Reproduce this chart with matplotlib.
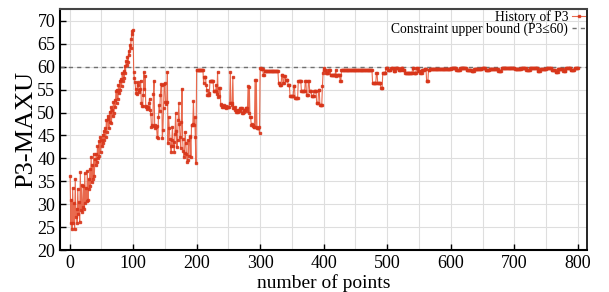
import numpy as np
import matplotlib
matplotlib.use('Agg')
import matplotlib.pyplot as plt
from matplotlib.ticker import MultipleLocator

plt.rcParams['font.family'] = ['Liberation Serif', 'DejaVu Serif']

# history of P3, points 1..300 read one by one
p3_head = [
    36.2, 25.8, 31.0, 24.6, 33.6, 26.0, 30.2, 24.6, 35.6, 27.2,
    29.0, 26.0, 33.4, 27.8, 30.4, 26.2, 37.0, 28.8, 34.2, 28.4,
    29.4, 34.0, 29.0, 36.8, 30.2, 33.6, 30.6, 37.2, 31.0, 35.4,
    33.4, 37.6, 34.0, 40.4, 34.8, 38.6, 35.6, 41.0, 36.2, 39.8,
    38.6, 41.0, 39.2, 42.6, 40.0, 43.8, 40.6, 44.6, 41.4, 44.0,
    42.6, 45.2, 43.4, 46.0, 44.0, 46.6, 44.6, 48.4, 45.8, 49.2,
    48.6, 46.6, 50.2, 48.0, 51.2, 47.8, 50.6, 49.2, 52.4, 50.0,
    52.8, 51.2, 54.6, 52.0, 55.0, 53.0, 56.0, 54.2, 57.0, 55.0,
    57.4, 55.8, 58.6, 56.8, 59.0, 57.6, 60.2, 58.6, 61.2, 60.4,
    62.2, 61.0, 63.4, 62.6, 64.8, 64.0, 66.0, 67.2, 67.7, 68.0,
    58.9, 57.6, 56.7, 55.2, 54.2, 54.0, 56.6, 56.0, 54.4, 55.0,
    55.2, 57.0, 52.0, 51.4, 51.5, 53.8, 58.9, 55.2, 58.0, 51.2,
    51.4, 50.8, 51.2, 51.0, 52.0, 53.0, 50.6, 49.6, 46.9, 47.2,
    47.0, 54.0, 57.0, 47.2, 46.7, 46.8, 47.0, 44.6, 44.4, 49.0,
    51.6, 50.4, 53.8, 56.2, 56.0, 44.4, 46.2, 51.0, 56.2, 56.4,
    52.2, 51.8, 52.4, 58.9, 43.3, 49.0, 46.6, 44.2, 42.6, 41.5,
    44.0, 46.9, 42.8, 43.6, 41.5, 45.4, 49.8, 46.0, 42.4, 44.0,
    48.4, 52.0, 47.6, 44.6, 42.3, 48.0, 55.2, 44.2, 41.6, 40.4,
    41.2, 45.8, 43.3, 41.0, 39.3, 39.6, 44.0, 40.6, 44.7, 44.8,
    40.4, 47.3, 47.2, 47.4, 52.5, 47.2, 49.0, 44.6, 38.9, 59.4,
    59.3, 59.3, 59.2, 59.3, 59.3, 59.2, 59.3, 59.3, 59.2, 59.3,
    56.4, 57.8, 57.8, 57.8, 56.0, 55.0, 53.8, 53.8, 53.8, 54.2,
    56.8, 56.8, 56.8, 56.8, 56.8, 56.8, 54.6, 54.6, 54.6, 54.6,
    56.0, 54.0, 58.9, 53.5, 53.6, 55.3, 55.3, 51.7, 51.8, 51.3,
    51.4, 51.2, 51.6, 51.3, 51.3, 51.0, 51.4, 51.3, 51.3, 51.2,
    51.3, 52.0, 58.9, 52.0, 51.6, 52.0, 57.8, 50.9, 50.9, 51.2,
    50.6, 50.2, 50.2, 50.6, 50.2, 50.5, 50.5, 51.0, 50.4, 50.9,
    50.9, 49.8, 49.8, 50.5, 50.2, 50.5, 50.9, 50.9, 50.4, 50.9,
    55.7, 50.0, 55.6, 49.1, 49.1, 47.3, 47.4, 47.3, 47.0, 46.9,
    46.9, 57.1, 46.9, 57.1, 46.6, 46.6, 46.6, 46.8, 45.5, 59.7,
]

# points 301..800, kept as (value, repeat count) runs
p3_tail_runs = [
    (59.7, 1), (59.5, 3), (58.3, 2), (59.0, 22), (56.5, 2), (56.1, 3),
    (58.3, 2), (56.5, 2), (58.0, 2), (57.2, 4), (56.1, 3), (53.6, 6),
    (55.7, 2), (53.2, 5), (56.8, 5), (54.6, 6), (56.8, 2), (53.9, 3),
    (56.8, 2), (54.6, 3), (53.6, 4), (54.6, 4), (52.0, 3), (55.0, 2),
    (51.7, 4), (55.7, 1), (58.6, 1), (59.7, 1),
    (59.3, 3), (58.6, 4), (59.3, 3), (58.3, 8), (59.3, 1), (57.9, 1),
    (58.3, 5), (56.8, 2), (59.2, 49), (56.5, 6), (58.6, 2), (56.5, 5),
    (55.4, 3), (58.6, 5), (59.7, 3),
    (59.3, 5), (59.7, 4), (59.0, 3), (59.7, 5), (59.2, 4), (59.7, 3),
    (59.4, 3), (58.6, 12), (59.7, 2), (58.6, 4), (59.7, 3), (59.0, 3),
    (58.6, 3), (59.3, 4), (59.6, 3), (56.9, 3), (59.3, 2), (59.5, 34),
    (59.7, 8), (59.3, 6), (59.8, 10), (59.4, 8), (59.0, 4), (59.6, 12),
    (59.8, 6), (59.2, 6), (59.6, 14), (59.0, 5), (59.7, 21),
    (59.5, 10), (59.8, 8), (59.3, 6), (59.7, 12), (59.0, 4), (59.6, 10),
    (59.8, 8), (59.2, 6), (58.8, 4), (59.6, 8), (59.0, 4), (59.7, 8),
    (59.4, 6), (59.8, 6),
]

upper_bound = 60

p3 = list(p3_head)
for val, n in p3_tail_runs:
    p3 += [val] * n
p3 = np.array(p3)
pts = np.arange(1, len(p3) + 1)

fig = plt.figure(figsize=(6.09, 2.92), dpi=100)
ax = fig.add_axes([0.0985, 0.1438, 0.866, 0.8237])

ax.grid(True, which='both', color='#dedede', linewidth=0.8, zorder=0)
ax.xaxis.set_major_locator(MultipleLocator(100))
ax.xaxis.set_minor_locator(MultipleLocator(50))
ax.yaxis.set_major_locator(MultipleLocator(5))

ax.plot(pts, p3, color='#e6502f', alpha=0.85, linewidth=0.8, marker='s',
        markersize=1.6, markerfacecolor='#d8361b', markeredgecolor='#d8361b',
        label='History of P3', zorder=3)
ax.axhline(upper_bound, color='#707070', linewidth=1, linestyle=(0, (3, 3)),
           label='Constraint upper bound (P3≤60)', zorder=2)

ax.set_xlim(-15, 815)
ax.set_ylim(20, 72.5)
ax.set_xlabel('number of points', fontsize=14, labelpad=1.5)
ax.set_ylabel('P3-MAXU', fontsize=19, labelpad=0)
ax.tick_params(axis='both', which='major', labelsize=13, direction='in', length=4, width=1)
ax.tick_params(axis='x', which='minor', length=0)

for s in ['left', 'bottom']:
    ax.spines[s].set_linewidth(1.5)
    ax.spines[s].set_color('black')
ax.spines['top'].set_linewidth(1.5)
ax.spines['top'].set_color('#444444')
ax.spines['right'].set_linewidth(1.2)
ax.spines['right'].set_color('black')

leg = ax.legend(loc='upper right', bbox_to_anchor=(1.0, 1.01), frameon=False,
                fontsize=9.8, markerfirst=False, handlelength=0.9,
                handletextpad=0.3, borderaxespad=0.1, borderpad=0.1,
                labelspacing=-0.1)

fig.savefig('out.png', dpi=100)
